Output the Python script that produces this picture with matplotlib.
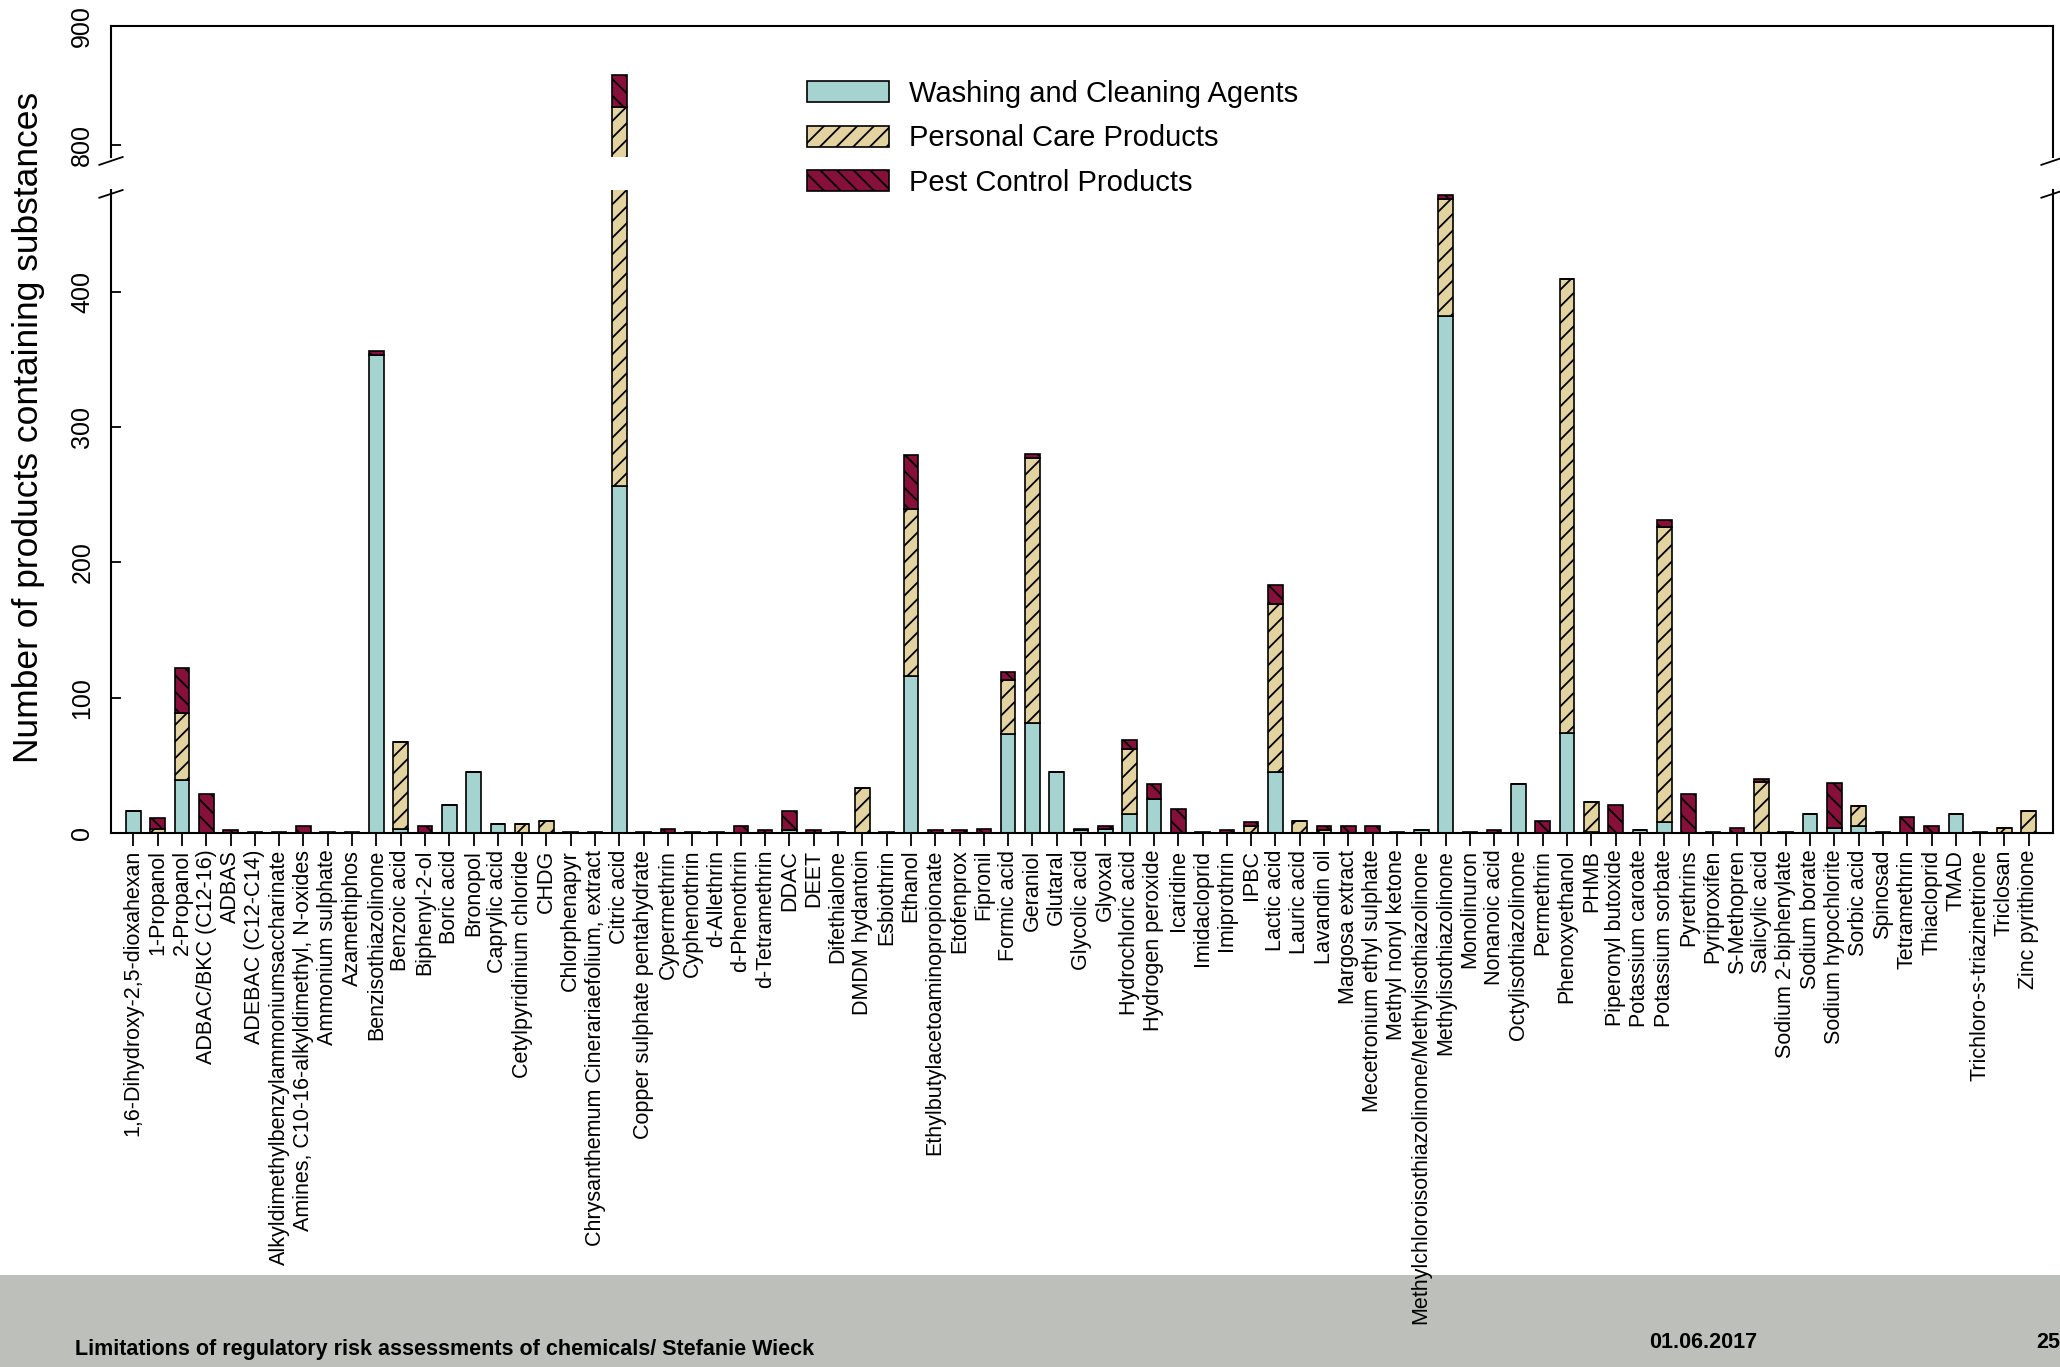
import numpy as np
import matplotlib
matplotlib.use("Agg")
import matplotlib.pyplot as plt
from matplotlib.patches import Patch, Rectangle

plt.rcParams['font.family'] = ['Liberation Sans', 'DejaVu Sans']
plt.rcParams['hatch.linewidth'] = 1.3

substances = [
    "1,6-Dihydroxy-2,5-dioxahexan", "1-Propanol", "2-Propanol", "ADBAC/BKC (C12-16)", "ADBAS",
    "ADEBAC (C12-C14)", "Alkyldimethylbenzylammoniumsaccharinate", "Amines, C10-16-alkyldimethyl, N-oxides",
    "Ammonium sulphate", "Azamethiphos", "Benzisothiazolinone", "Benzoic acid", "Biphenyl-2-ol",
    "Boric acid", "Bronopol", "Caprylic acid", "Cetylpyridinium chloride", "CHDG", "Chlorphenapyr",
    "Chrysanthemum Cinerariaefolium, extract", "Citric acid", "Copper sulphate pentahydrate",
    "Cypermethrin", "Cyphenothrin", "d-Allethrin", "d-Phenothrin", "d-Tetramethrin", "DDAC", "DEET",
    "Difethialone", "DMDM hydantoin", "Esbiothrin", "Ethanol", "Ethylbutylacetoaminopropionate",
    "Etofenprox", "Fipronil", "Formic acid", "Geraniol", "Glutaral", "Glycolic acid", "Glyoxal",
    "Hydrochloric acid", "Hydrogen peroxide", "Icaridine", "Imidacloprid", "Imiprothrin", "IPBC",
    "Lactic acid", "Lauric acid", "Lavandin oil", "Margosa extract", "Mecetronium ethyl sulphate",
    "Methyl nonyl ketone", "Methylchloroisothiazolinone/Methylisothiazolinone", "Methylisothiazolinone",
    "Monolinuron", "Nonanoic acid", "Octylisothiazolinone", "Permethrin", "Phenoxyethanol", "PHMB",
    "Piperonyl butoxide", "Potassium caroate", "Potassium sorbate", "Pyrethrins", "Pyriproxifen",
    "S-Methopren", "Salicylic acid", "Sodium 2-biphenylate", "Sodium borate", "Sodium hypochlorite",
    "Sorbic acid", "Spinosad", "Tetramethrin", "Thiacloprid", "TMAD", "Trichloro-s-triazinetrione",
    "Triclosan", "Zinc pyrithione",
]

washing = [16, 0, 39, 0, 0, 0, 0, 0, 0, 0, 353, 3, 0, 21, 45, 7, 0, 0, 0, 0,
           256, 0, 0, 0, 0, 0, 0, 2, 0, 0, 0, 0, 116, 0, 0, 0, 73, 81, 45, 2,
           3, 14, 25, 0, 0, 0, 0, 45, 0, 0, 0, 0, 0, 2, 382, 0, 0, 36, 0, 74,
           1, 0, 2, 8, 0, 0, 0, 0, 0, 14, 4, 5, 0, 0, 0, 14, 0, 0, 0]
personal = [0, 3, 50, 0, 0, 0, 0, 0, 0, 0, 0, 64, 0, 0, 0, 0, 7, 9, 0, 0,
            576, 0, 0, 0, 0, 0, 0, 0, 0, 0, 33, 0, 123, 0, 0, 0, 40, 196, 0, 0,
            0, 48, 0, 0, 0, 0, 5, 124, 9, 2, 0, 0, 0, 0, 86, 0, 0, 0, 0, 335,
            22, 0, 0, 218, 0, 0, 0, 38, 0, 0, 0, 15, 0, 0, 0, 0, 0, 4, 16]
pest = [0, 8, 33, 29, 2, 1, 1, 5, 1, 1, 3, 0, 5, 0, 0, 0, 0, 0, 1, 1,
        27, 1, 3, 1, 1, 5, 2, 14, 2, 1, 0, 1, 40, 2, 2, 3, 6, 3, 0, 1,
        2, 7, 11, 18, 1, 2, 3, 14, 0, 3, 5, 5, 1, 0, 3, 1, 2, 0, 9, 0,
        0, 21, 0, 5, 29, 1, 4, 2, 1, 0, 33, 0, 1, 12, 5, 0, 1, 0, 0]

series = ["Washing and Cleaning Agents", "Personal Care Products", "Pest Control Products"]
colors = ["#A5D3CF", "#E2D3A0", "#86103A"]
hatches = [None, "//", "\\\\"]

W, H = 2060, 1367
fig = plt.figure(figsize=(W / 100, H / 100), dpi=100)

# grey footer band
fig.patches.append(Rectangle((0, 0), 1, 1 - 1275 / H, transform=fig.transFigure,
                             facecolor="#BDC0BA", edgecolor="none", zorder=0))

left, right = 111 / W, 2053 / W
ax_top = fig.add_axes([left, 1 - 157 / H, right - left, (157 - 26) / H])
ax = fig.add_axes([left, 1 - 833 / H, right - left, (833 - 190) / H])
ax.set_zorder(2)
ax_top.set_zorder(2)

x = np.arange(len(substances))
for a in (ax, ax_top):
    bottom = np.zeros(len(substances))
    for vals, c, h in zip([washing, personal, pest], colors, hatches):
        a.bar(x, vals, 0.6, bottom=bottom, color=c, hatch=h,
              edgecolor="black", linewidth=1.2)
        bottom += np.array(vals)
    a.set_xlim(-0.92, 79.0)
    a.patch.set_alpha(0)
    for s in a.spines.values():
        s.set_linewidth(1.5)

ax.set_ylim(0, 475)
ax_top.set_ylim(790, 900)
ax.spines["top"].set_visible(False)
ax_top.spines["bottom"].set_visible(False)

ax.set_yticks([0, 100, 200, 300, 400])
ax_top.set_yticks([800, 900])
ax_top.set_xticks([])
ax.set_xticks(x)
ax.set_xticklabels(substances, rotation=90, fontsize=15.5)
ax.tick_params(axis="x", direction="out", length=9, width=1.3, pad=3)
for a in (ax, ax_top):
    a.tick_params(axis="y", direction="in", length=7, width=1.3, labelsize=18,
                  labelrotation=90, pad=12)
    for lab in a.get_yticklabels():
        lab.set_va("center")

# break marks
d = 0.006
for xs in (0, 1):
    ax.plot([xs - d, xs + d], [1 - 0.012, 1 + 0.0], transform=ax.transAxes,
            color="black", lw=1.3, clip_on=False)
    ax_top.plot([xs - d, xs + d], [-0.06, 0.0], transform=ax_top.transAxes,
                color="black", lw=1.3, clip_on=False)

fig.text(29 / W, 1 - 427 / H, "Number of products containing substances",
         rotation=90, ha="center", va="center", fontsize=25.5)

handles = [Patch(facecolor=c, edgecolor="black", hatch=h, linewidth=1.2)
           for c, h in zip(colors, hatches)]
fig.legend(handles, series, loc="upper left", bbox_to_anchor=(807 / W, 1 - 80 / H),
           frameon=False, fontsize=21, handlelength=2.8, handleheight=0.72,
           handletextpad=0.7, labelspacing=0.56, borderpad=0, borderaxespad=0)

foot = dict(fontsize=15.5, fontweight="bold", va="center",
            family=["Liberation Sans Narrow", "Liberation Sans"])
fig.text(75 / W, 1 - 1349 / H, "Limitations of regulatory risk assessments of chemicals/ Stefanie Wieck",
         ha="left", **foot)
fig.text(1703 / W, 1 - 1342 / H, "01.06.2017", ha="center", **foot)
fig.text(2036 / W, 1 - 1342 / H, "25", ha="left", **foot)

fig.savefig("out.png", dpi=100)
